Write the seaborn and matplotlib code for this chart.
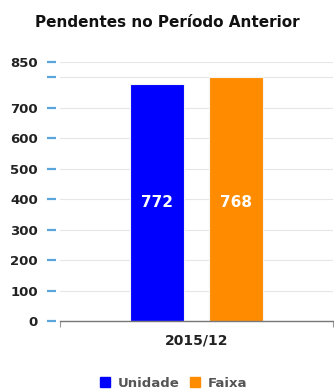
import matplotlib
matplotlib.use("Agg")
import matplotlib.pyplot as plt
import seaborn as sns
import pandas as pd
from matplotlib.patches import Patch

categories = ["2015/12"]
series = ["Unidade", "Faixa"]
values = [777, 800]
value_labels = ["772", "768"]
colors = ["#0000FF", "#FF8C00"]
yticks = [0, 100, 200, 300, 400, 500, 600, 700, 800, 850]
ytick_labels = ["0", "100", "200", "300", "400", "500", "600", "700", "", "850"]

sns.set_theme(style="white")
plt.rcParams['font.family'] = ['DejaVu Sans']

df = pd.DataFrame({"cat": categories * len(series), "serie": series, "val": values})

fig = plt.figure(figsize=(3.34, 3.9), dpi=100)
ax = fig.add_axes([0.18, 0.177, 0.817, 0.664])

sns.barplot(data=df, x="cat", y="val", hue="serie", palette=colors,
            width=0.58, gap=0.31, ax=ax, legend=False,
            edgecolor="#f4f4f4", linewidth=0.8, saturation=1)

label_y = min(values) / 2
for patch, lab in zip(ax.patches, value_labels):
    cx = patch.get_x() + patch.get_width() / 2
    ax.text(cx, label_y, lab, ha="center", va="center", color="white",
            fontsize=11, fontweight="bold")

ax.set_xlim(-0.5, 0.5)
ax.set_ylim(0, 850)
ax.set_yticks(yticks)
ax.set_yticklabels(ytick_labels)
ax.set_xlabel("")
ax.set_ylabel("")
for y in yticks:
    ax.axhline(y, color="#e6e6e6", lw=0.8, zorder=0)
ax.set_axisbelow(True)

for s in ["right", "top"]:
    ax.spines[s].set_visible(False)
ax.spines["left"].set_visible(False)
ax.spines["left"].set_position(("outward", 3))
ax.spines["bottom"].set_color("#777777")
ax.spines["bottom"].set_linewidth(1.0)

ax.tick_params(axis="y", left=True, length=6.5, width=1.6, color="#5aa5dc", pad=6.5,
               direction="out", labelsize=9.5, labelcolor="#222222")
for t in ax.get_yticklabels():
    t.set_fontweight("bold")
ax.tick_params(axis="x", bottom=True, length=0, pad=9, labelsize=10, labelcolor="#222222")
for t in ax.get_xticklabels():
    t.set_fontweight("bold")
ax.set_xticks([-0.5, 0.5], minor=True)
ax.tick_params(axis="x", which="minor", bottom=True, length=4, color="#999999", width=0.8)

fig.suptitle("Pendentes no Período Anterior", y=0.962, fontsize=11,
             fontweight="bold", color="#111111")

handles = [Patch(facecolor=c, edgecolor=c, label=s) for s, c in zip(series, colors)]
leg = fig.legend(handles=handles, loc="lower center", ncol=2, frameon=False,
                 bbox_to_anchor=(0.52, -0.03), fontsize=9.5, handlelength=0.75,
                 handleheight=0.75, columnspacing=0.8, handletextpad=0.6)
for t in leg.get_texts():
    t.set_color("#555555")
    t.set_fontweight("bold")

fig.savefig("out.png", dpi=100)
